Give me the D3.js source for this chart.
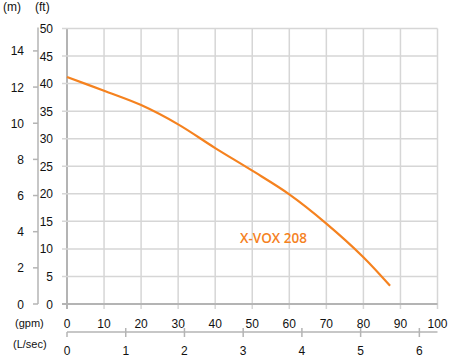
<!DOCTYPE html>
<html><head><meta charset="utf-8">
<script src="https://cdn.jsdelivr.net/npm/d3@7"></script>
<style>
html,body{margin:0;padding:0;background:#fff;}
svg{display:block;}
text{font-family:"Liberation Sans",Arial,sans-serif;font-size:12px;fill:#111;}
</style></head><body>
<svg id="c" width="457" height="360"></svg>
<script>
// Data (flow in gpm, head in ft)
const flowGpm = [0, 10, 20, 30, 40, 50, 60, 70, 80, 87.2];
const headFt  = [41.2, 38.7, 36.1, 32.6, 28.3, 24.2, 19.9, 14.6, 8.5, 3.3];
const seriesName = "X-VOX 208";
const ftTicks = [0, 5, 10, 15, 20, 25, 30, 35, 40, 45, 50];
const mTicks = [0, 2, 4, 6, 8, 10, 12, 14];
const gpmTicks = [0, 10, 20, 30, 40, 50, 60, 70, 80, 90, 100];
const lsTicks = [0, 1, 2, 3, 4, 5, 6];

const FT_PER_M = 3.28084;
const GPM_PER_LS = 15.8503;

const svg = d3.select("#c");
const x = d3.scaleLinear().domain([0, 100]).range([67, 437.5]);
const y = d3.scaleLinear().domain([0, 50]).range([304, 28.5]);

const gridCol = "#d6d6d6", axisCol = "#b4b4b4", orange = "#f5821f";

// vertical grid lines (extend below as ticks)
svg.append("g").selectAll("line").data(gpmTicks).join("line")
  .attr("x1", d => x(d)).attr("x2", d => x(d))
  .attr("y1", y(50)).attr("y2", y(0) + 5)
  .attr("stroke", d => d === 0 ? axisCol : gridCol).attr("stroke-width", d => d === 0 ? 2 : 1.5);

// horizontal grid lines (extend left as ticks)
svg.append("g").selectAll("line").data(ftTicks).join("line")
  .attr("x1", x(0) - 5).attr("x2", x(100))
  .attr("y1", d => y(d)).attr("y2", d => y(d))
  .attr("stroke", d => d === 0 ? axisCol : gridCol).attr("stroke-width", d => d === 0 ? 2 : 1.5);

// ft labels
svg.append("g").selectAll("text").data(ftTicks).join("text")
  .attr("x", 53).attr("y", d => y(d) + 4.5).attr("text-anchor", "end").text(d => d);

// m axis line and ticks
svg.append("line").attr("x1", 38).attr("x2", 38).attr("y1", y(50) - 1).attr("y2", y(0))
  .attr("stroke", axisCol).attr("stroke-width", 1.5);
svg.append("g").selectAll("line").data(mTicks).join("line")
  .attr("x1", 33).attr("x2", 38)
  .attr("y1", d => y(d * FT_PER_M)).attr("y2", d => y(d * FT_PER_M))
  .attr("stroke", axisCol).attr("stroke-width", 1.5);
svg.append("g").selectAll("text").data(mTicks).join("text")
  .attr("x", 24).attr("y", d => y(d * FT_PER_M) + 4.5).attr("text-anchor", "end").text(d => d);

// unit headers
svg.append("text").attr("x", 3).attr("y", 11).text("(m)");
svg.append("text").attr("x", 35).attr("y", 11).text("(ft)");

// gpm labels
svg.append("g").selectAll("text").data(gpmTicks).join("text")
  .attr("x", d => x(d)).attr("y", 328).attr("text-anchor", "middle").text(d => d);
svg.append("text").attr("x", 15).attr("y", 327).style("font-size", "11px").text("(gpm)");

// L/sec axis
const yLs = 332;
svg.append("line").attr("x1", x(0)).attr("x2", x(100)).attr("y1", yLs).attr("y2", yLs)
  .attr("stroke", axisCol).attr("stroke-width", 1.5);
svg.append("g").selectAll("line").data(lsTicks).join("line")
  .attr("x1", d => x(d * GPM_PER_LS)).attr("x2", d => x(d * GPM_PER_LS))
  .attr("y1", d => d === 0 ? yLs : yLs - 4).attr("y2", yLs + 5)
  .attr("stroke", axisCol).attr("stroke-width", 1.5);
svg.append("g").selectAll("text").data(lsTicks).join("text")
  .attr("x", d => x(d * GPM_PER_LS)).attr("y", 355).attr("text-anchor", "middle").text(d => d);
svg.append("text").attr("x", 13).attr("y", 348).style("font-size", "11px").text("(L/sec)");

// curve
const line = d3.line().x((d, i) => x(flowGpm[i])).y(d => y(d)).curve(d3.curveCatmullRom.alpha(0.5));
svg.append("path").datum(headFt).attr("d", line)
  .attr("fill", "none").attr("stroke", orange).attr("stroke-width", 2.2);

// series label
svg.append("text").attr("x", 240).attr("y", 243)
  .style("font-family", "'Open Sans', sans-serif").style("font-size", "13.5px").style("font-weight", "600")
  .style("fill", orange).text(seriesName);
</script>
</body></html>
